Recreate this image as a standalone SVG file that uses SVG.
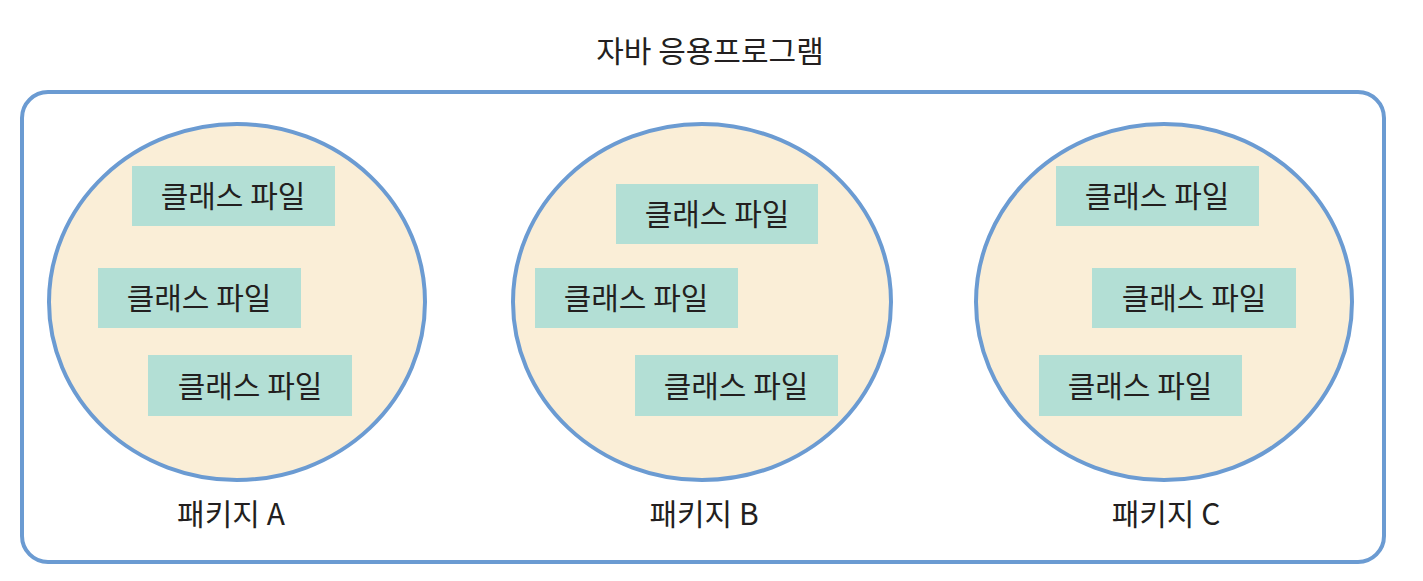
<svg xmlns="http://www.w3.org/2000/svg" width="1423" height="581" viewBox="0 0 1423 581">
<style>
.frame{fill:#fff;stroke:#6b9bd2;stroke-width:4}
.pkg{fill:#faeed7;stroke:#6b9bd2;stroke-width:4}
.cls{fill:#b3dfd5}
text{font-family:"Noto Sans CJK KR","Noto Sans",sans-serif;fill:#231f20;text-anchor:middle}
.t{font-size:30px}
.lbl{font-size:30px}
.title{font-size:30px}
</style>
<rect width="1423" height="581" fill="#fff"/>
<g id="app">
<rect class="frame" x="22" y="92" width="1362" height="470" rx="26"/>
<text class="title" x="710" y="62">자바 응용프로그램</text>
</g>
<g id="pkgA">
<ellipse class="pkg" cx="237" cy="302" rx="188" ry="178"/>
<text class="lbl" x="231" y="525">패키지 A</text>
</g>
<g id="pkgA-c1"><rect class="cls" x="132" y="166" width="203" height="60"/><text class="t" x="233" y="207">클래스 파일</text></g>
<g id="pkgA-c2"><rect class="cls" x="98" y="268" width="203" height="60"/><text class="t" x="199" y="309">클래스 파일</text></g>
<g id="pkgA-c3"><rect class="cls" x="148" y="355" width="204" height="61"/><text class="t" x="250" y="397">클래스 파일</text></g>
<g id="pkgB">
<ellipse class="pkg" cx="702" cy="302" rx="189" ry="178"/>
<text class="lbl" x="704" y="525">패키지 B</text>
</g>
<g id="pkgB-c1"><rect class="cls" x="616" y="184" width="202" height="60"/><text class="t" x="717" y="225">클래스 파일</text></g>
<g id="pkgB-c2"><rect class="cls" x="535" y="268" width="203" height="60"/><text class="t" x="636" y="309">클래스 파일</text></g>
<g id="pkgB-c3"><rect class="cls" x="635" y="355" width="203" height="61"/><text class="t" x="736" y="397">클래스 파일</text></g>
<g id="pkgC">
<ellipse class="pkg" cx="1164" cy="302" rx="188" ry="178"/>
<text class="lbl" x="1166" y="525">패키지 C</text>
</g>
<g id="pkgC-c1"><rect class="cls" x="1056" y="166" width="203" height="60"/><text class="t" x="1157" y="207">클래스 파일</text></g>
<g id="pkgC-c2"><rect class="cls" x="1092" y="268" width="204" height="60"/><text class="t" x="1194" y="309">클래스 파일</text></g>
<g id="pkgC-c3"><rect class="cls" x="1039" y="355" width="203" height="61"/><text class="t" x="1140" y="397">클래스 파일</text></g>
<g id="connectors"></g>
</svg>
